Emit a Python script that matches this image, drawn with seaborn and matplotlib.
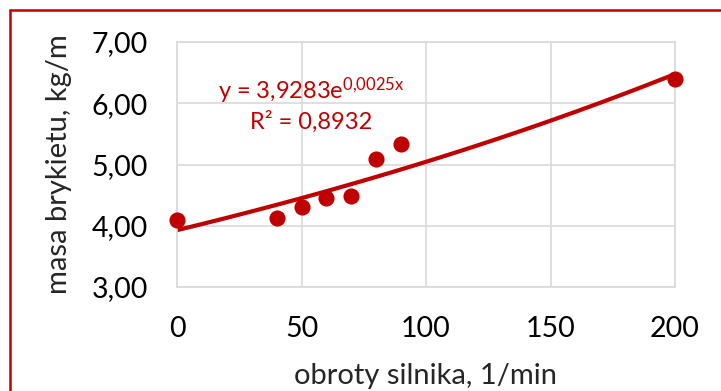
import numpy as np
import pandas as pd
import seaborn as sns
import matplotlib.pyplot as plt
from matplotlib.lines import Line2D

# dane pomiarowe
obroty = [0, 40, 50, 60, 70, 80, 90, 200]
masa = [4.09, 4.12, 4.31, 4.46, 4.49, 5.09, 5.34, 6.40]
# linia trendu wykladnicza (z wykresu)
a_coef, b_coef = 3.9283, 0.0025
eq_text = "y = 3,9283e$^{0{,}0025x}$"
r2_text = "R² = 0,8932"
y_ticks = [3, 4, 5, 6, 7]
x_ticks = [0, 50, 100, 150, 200]

red = "#C00000"

sns.set_theme(style="whitegrid")
plt.rcParams["font.family"] = ["Lato", "DejaVu Sans"]
plt.rcParams["mathtext.fontset"] = "custom"
plt.rcParams["mathtext.rm"] = "Lato"
plt.rcParams["mathtext.it"] = "Lato"

df = pd.DataFrame({"obroty": obroty, "masa": masa})
xs = np.linspace(0, 200, 100)
trend = pd.DataFrame({"obroty": xs, "masa": a_coef * np.exp(b_coef * xs)})

fig = plt.figure(figsize=(7.21, 3.91), dpi=100)
ax = fig.add_axes([177 / 721, 1 - 287 / 391, (675 - 177) / 721, (287 - 42) / 391])

sns.lineplot(data=trend, x="obroty", y="masa", color=red, linewidth=3.0, ax=ax, zorder=2)
sns.scatterplot(data=df, x="obroty", y="masa", color=red, s=135, edgecolor=red,
                linewidth=0, ax=ax, zorder=3, clip_on=False)

ax.set_xlim(0, 200)
ax.set_ylim(3, 7)
ax.set_xticks(x_ticks)
ax.set_yticks(y_ticks)
ax.set_xticklabels([str(v) for v in x_ticks], fontsize=20.5)
ax.set_yticklabels([f"{v:.2f}".replace(".", ",") for v in y_ticks], fontsize=20.5)
ax.tick_params(axis="both", length=0, colors="black")
ax.tick_params(axis="x", pad=21)
ax.tick_params(axis="y", pad=21)
ax.grid(True, color="#D9D9D9", linewidth=1.2)
for s in ax.spines.values():
    s.set_color("#D9D9D9")
    s.set_linewidth(1.2)

ax.set_xlabel("obroty silnika, 1/min", fontsize=21, labelpad=15)
ax.set_ylabel("masa brykietu, kg/m", fontsize=21, labelpad=14)

ax.text(0.27, 0.80, eq_text, transform=ax.transAxes, ha="center", va="center",
        color=red, fontsize=17)
ax.text(0.27, 0.675, r2_text, transform=ax.transAxes, ha="center", va="center",
        color=red, fontsize=17)

# czerwona ramka wykresu
fig.add_artist(Line2D([9.5 / 721, 1], [1 - 10 / 391, 1 - 10 / 391],
                      transform=fig.transFigure, color=red, linewidth=1.8))
fig.add_artist(Line2D([9.5 / 721, 9.5 / 721], [0, 1 - 10 / 391],
                      transform=fig.transFigure, color=red, linewidth=1.8))

fig.savefig("out.png", dpi=100)
